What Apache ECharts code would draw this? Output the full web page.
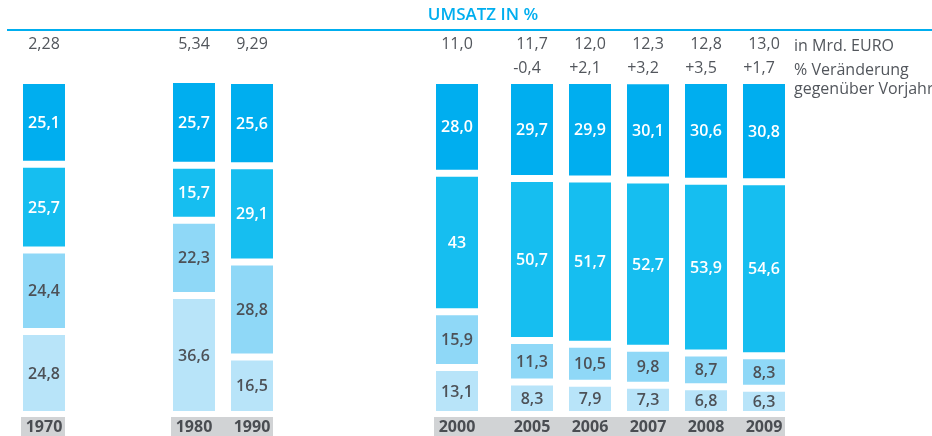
<!DOCTYPE html>
<html>
<head>
<meta charset="utf-8">
<script src="https://cdn.jsdelivr.net/npm/echarts@6/dist/echarts.min.js"></script>
<style>
html,body{margin:0;padding:0;background:#fff;}
#c{width:932px;height:436px;}
</style>
</head>
<body>
<div id="c"></div>
<script>
// ---- data (as printed) ----
const years   = ['1970','1980','1990','2000','2005','2006','2007','2008','2009'];
const share1  = ['25,1','25,7','25,6','28,0','29,7','29,9','30,1','30,6','30,8']; // top segment
const share2  = ['25,7','15,7','29,1','43','50,7','51,7','52,7','53,9','54,6'];
const share3  = ['24,4','22,3','28,8','15,9','11,3','10,5','9,8','8,7','8,3'];
const share4  = ['24,8','36,6','16,5','13,1','8,3','7,9','7,3','6,8','6,3'];   // bottom segment
const revenue = ['2,28','5,34','9,29','11,0','11,7','12,0','12,3','12,8','13,0'];
const change  = ['','','','','-0,4','+2,1','+3,2','+3,5','+1,7'];
const titleText = 'UMSATZ IN %';
const legendRows = ['in Mrd. EURO','% Veränderung','gegenüber Vorjahr'];

// ---- layout / style ----
const num = s => parseFloat(s.replace(',', '.'));
const GROUPS = [[0],[1,2],[3],[4,5,6,7,8]];
const GRID_LEFT = [15,165,428,503];
const BAND = 58, BW = 42, GAP = 2.29;
const YMAX = 100 + 3*GAP;
const STRIPS = [[0,0],[1,2],[3,8]];
const COLORS = ['#b8e4f9','#8fd8f7','#16bef0','#00aeef']; // bottom -> top
const TXT = ['#4d5157','#4d5157','#ffffff','#ffffff'];
const FONT = '"Open Sans", "Noto Sans", sans-serif';
const GREY = '#52565c';

const grids=[], xAxes=[], yAxes=[], series=[];
GROUPS.forEach((g, gi) => {
  grids.push({left: GRID_LEFT[gi], width: BAND*g.length, top: 84, bottom: 25});
  xAxes.push({type:'category', gridIndex: gi, data: g.map(i=>years[i]),
    axisLine:{show:false}, axisTick:{show:false},
    axisLabel:{color:'#4a4d52', fontFamily: FONT, fontWeight:'bold', fontSize:16, margin:8, lineHeight:16}});
  yAxes.push({type:'value', gridIndex: gi, min:0, max:YMAX, show:false});
  series.push({
    type:'custom', xAxisIndex: gi, yAxisIndex: gi, clip:false,
    data: g.map((idx, ci) => [ci, idx]),
    renderItem: (params, api) => {
      const ci = api.value(0), idx = api.value(1);
      const vals = [share4[idx], share3[idx], share2[idx], share1[idx]];
      const cx = api.coord([ci, 0])[0];
      const children = [];
      let acc = 0;
      vals.forEach((s, k) => {
        const v = num(s);
        const yb = api.coord([ci, acc])[1];
        const yt = api.coord([ci, acc + v])[1];
        acc += v + GAP;
        children.push({type:'rect', shape:{x: cx - BW/2, y: yt, width: BW, height: yb - yt},
          style:{fill: COLORS[k]}});
        children.push({type:'text', style:{text: s, x: cx, y: (yt+yb)/2 + 1, align:'center', verticalAlign:'middle',
          fill: TXT[k], font: '600 16px ' + FONT}});
      });
      const yTop = api.coord([ci, YMAX])[1];
      children.push({type:'text', style:{text: revenue[idx], x: cx, y: yTop - 40, align:'center', verticalAlign:'middle',
        fill: GREY, font: '16px ' + FONT}});
      if (change[idx]) children.push({type:'text', style:{text: change[idx], x: cx - 5, y: yTop - 16, align:'center', verticalAlign:'middle',
        fill: GREY, font: '16px ' + FONT}});
      return {type:'group', children};
    }
  });
});

const chart = echarts.init(document.getElementById('c'), null, {renderer:'canvas'});
chart.setOption({
  animation:false,
  grid: grids, xAxis: xAxes, yAxis: yAxes, series,
  graphic: []
});

// locate bars through the axes for the label strips
const where = {};
GROUPS.forEach((g, gi) => g.forEach((idx, ci) => where[idx] = [gi, ci]));
const px = idx => chart.convertToPixel({gridIndex: where[idx][0]}, [where[idx][1], 0]);
const graphic = [];
STRIPS.forEach(([a, b]) => {
  const l = px(a)[0] - BW/2 - 2, r = px(b)[0] + BW/2;
  const yb = px(a)[1];
  graphic.push({type:'rect', z:-1, shape:{x:l, y: yb + 6, width: r - l, height: 40}, style:{fill:'#d1d3d5'}});
});
graphic.push({type:'line', shape:{x1:7, y1:30, x2:932, y2:30}, style:{stroke:'#00aeef', lineWidth:2}});
graphic.push({type:'text', style:{text: titleText, x: 483, y: 15, align:'center', verticalAlign:'middle',
  fill:'#00aeef', font:'600 17px ' + FONT}});
legendRows.forEach((t, i) => graphic.push({type:'text', style:{text:t, x: 794, y: [46, 70, 89][i], align:'left', verticalAlign:'middle',
  fill: GREY, font: '16px ' + FONT}}));
chart.setOption({graphic});
</script>
</body>
</html>
